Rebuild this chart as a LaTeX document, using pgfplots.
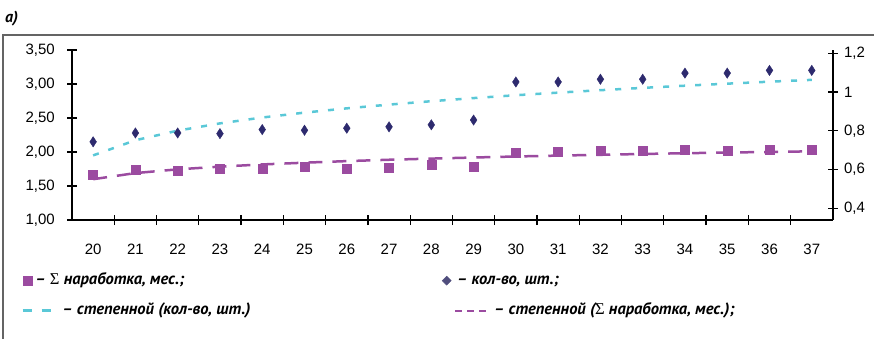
\documentclass[border=0pt]{standalone}
\usepackage{pgfplots}
\pgfplotsset{compat=1.18}
\usepackage{fontspec}
\setmainfont{Liberation Sans}
\newfontfamily\legfont{PT Sans}[BoldItalicFont={PT Sans Bold Italic}]
\newfontfamily\symfont{Liberation Serif}
\definecolor{cpurple}{RGB}{155,75,160}
\definecolor{cnavy}{RGB}{45,42,110}
\definecolor{clegnavy}{RGB}{80,78,125}
\definecolor{ccyan}{RGB}{90,200,215}
\definecolor{cframe}{RGB}{100,100,100}
\newcommand{\Sig}{{\symfont\mdseries\upshape Σ}}
\begin{document}
\begin{tikzpicture}[x=1pt,y=1pt]
\path[use as bounding box] (0,0) rectangle (874,338);
\draw[cframe, line width=1.5pt] (3,-5) -- (3,303) -- (880,303);
\node[anchor=base west, inner sep=0pt, font=\legfont\bfseries\itshape\fontsize{16}{16}\selectfont] at (5,315) {a)};

\begin{axis}[
  at={(72pt,118pt)}, anchor=south west,
  scale only axis, width=760.9pt, height=170pt,
  xmin=19.5, xmax=37.5, ymin=1, ymax=3.5,
  axis x line*=bottom, axis y line*=left,
  axis line style={line width=1.3pt, -},
  tick align=center, major tick length=10pt, minor tick length=10pt,
  every tick/.style={black, line width=1.2pt},
  xtick={20,...,37}, major x tick style={draw=none},
  minor xtick={20.5,21.5,...,36.5},
  ytick={1,1.5,2,2.5,3,3.5},
  yticklabels={{1,00},{1,50},{2,00},{2,50},{3,00},{3,50}},
  /pgf/number format/assume math mode=true,
  tick label style={font=\fontsize{15}{15}\selectfont, inner sep=0pt},
  yticklabel style={anchor=east, xshift=-12pt},
  xticklabel style={anchor=north, yshift=-19pt},
  clip=false,
  legend columns=2,
  legend cell align=left,
  legend style={draw=none, fill=none, inner sep=0pt, outer sep=0pt,
    column sep=0pt, row sep=15pt,
    at={(axis description cs:-0.0664,-0.3129)}, anchor=north west,
    nodes={inner sep=0pt, text height=11pt, text depth=4pt,
      font=\legfont\bfseries\itshape\fontsize{16.5}{16.5}\selectfont}},
]
\addplot[only marks, mark=square*, mark size=4.5pt, color=cpurple,
  legend image code/.code={\fill[cpurple] (0pt,-4.5pt) rectangle (9pt,4.5pt); \path (0pt,0pt) (30pt,0pt);}]
coordinates {(20,1.67)(21,1.74)(22,1.73)(23,1.76)(24,1.76)(25,1.78)(26,1.76)(27,1.77)(28,1.82)(29,1.79)(30,1.99)(31,2.00)(32,2.02)(33,2.02)(34,2.03)(35,2.02)(36,2.04)(37,2.03)};
\addlegendentry{\hspace*{-18.5pt}– \Sig\ наработка, мес.;}
\addplot[only marks, mark=diamond*, mark size=4.5pt, color=cnavy, mark options={yscale=1.15},
  legend image code/.code={\fill[clegnavy] (-13pt,0pt) -- (-8.5pt,4.5pt) -- (-4pt,0pt) -- (-8.5pt,-4.5pt) -- cycle; \path (0pt,0pt) (32pt,0pt);}]
coordinates {(20,2.15)(21,2.28)(22,2.28)(23,2.27)(24,2.33)(25,2.32)(26,2.35)(27,2.37)(28,2.40)(29,2.47)(30,3.03)(31,3.03)(32,3.07)(33,3.07)(34,3.16)(35,3.16)(36,3.20)(37,3.20)};
\addlegendentry{\hspace*{-31pt}– кол-во, шт.;}
\addplot[ccyan, line width=2.5pt, dash pattern=on 6pt off 10pt,
  legend image code/.code={\draw[ccyan, line width=2.5pt, dash pattern=on 9pt off 10pt] (0pt,0pt) -- (30pt,0pt);}]
coordinates {(20,1.950)(21,2.173)(22,2.314)(23,2.421)(24,2.507)(25,2.579)(26,2.642)(27,2.697)(28,2.747)(29,2.793)(30,2.835)(31,2.873)(32,2.909)(33,2.943)(34,2.975)(35,3.005)(36,3.034)(37,3.061)};
\addlegendentry{\hspace*{8.5pt}\makebox[378.5pt][l]{– степенной (кол-во, шт.)}}
\addplot[cpurple, line width=2.5pt, dash pattern=on 14pt off 10pt,
  legend image code/.code={\path (-13pt,0pt); \draw[cpurple, line width=2pt, dash pattern=on 7pt off 5pt] (0pt,0pt) -- (32pt,0pt);}]
coordinates {(20,1.600)(21,1.690)(22,1.745)(23,1.785)(24,1.817)(25,1.843)(26,1.866)(27,1.886)(28,1.903)(29,1.919)(30,1.934)(31,1.947)(32,1.959)(33,1.971)(34,1.982)(35,1.992)(36,2.001)(37,2.010)};
\addlegendentry{\hspace*{6pt}– степенной (\Sig\ наработка, мес.);}
\end{axis}

\begin{axis}[
  at={(72pt,118pt)}, anchor=south west,
  scale only axis, width=760.9pt, height=170pt,
  xmin=19.5, xmax=37.5, ymin=0.34, ymax=1.217,
  axis x line=none, axis y line*=right,
  axis line style={line width=1.3pt, -},
  tick align=center, major tick length=10pt,
  every tick/.style={black, line width=1.2pt},
  ytick={0.4,0.6,0.8,1,1.2},
  yticklabels={{0,4},{0,6},{0,8},1,{1,2}},
  /pgf/number format/assume math mode=true,
  tick label style={font=\fontsize{15}{15}\selectfont, inner sep=0pt},
  yticklabel style={anchor=west, xshift=6pt},
]
\end{axis}
\end{tikzpicture}
\end{document}
